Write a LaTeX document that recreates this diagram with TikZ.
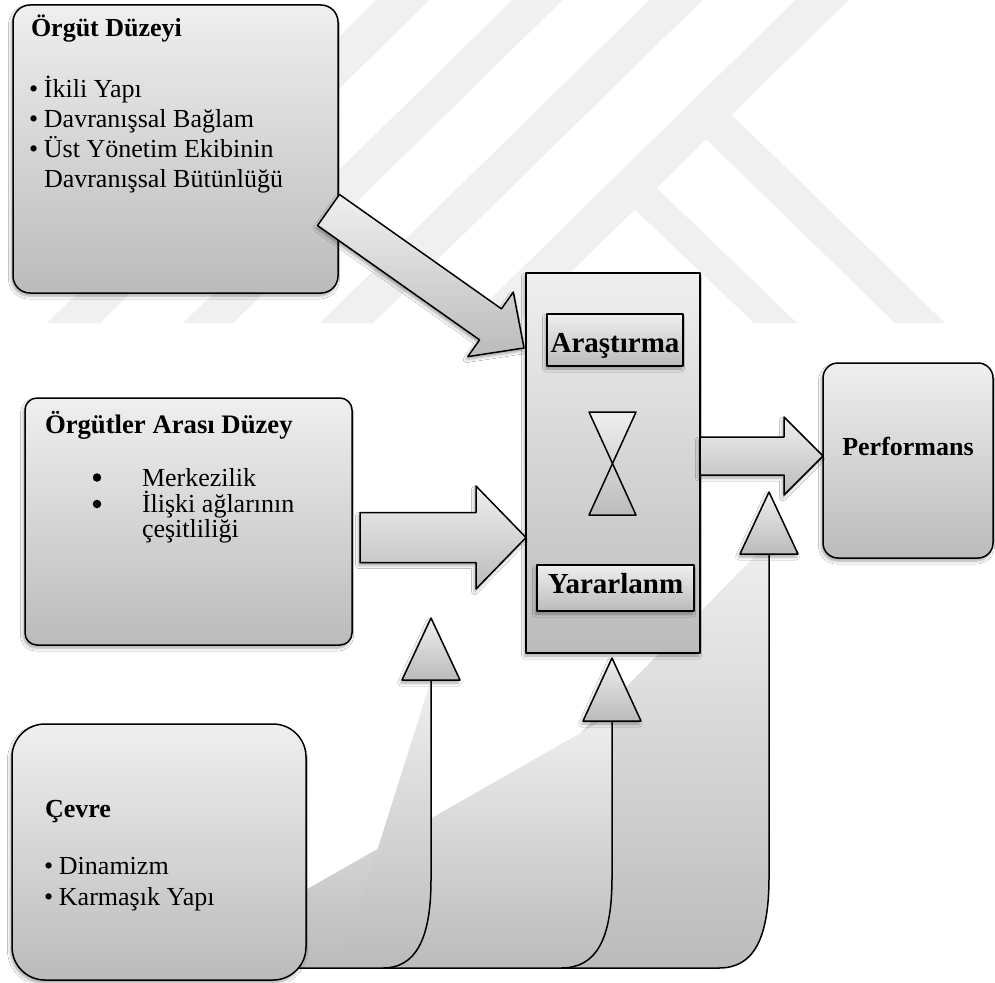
\documentclass[tikz,border=0pt]{standalone}
\usepackage{fontspec}
\setmainfont{Liberation Serif}
\usetikzlibrary{calc,shadows.blur}

\definecolor{shtop}{HTML}{EFEFEF}
\definecolor{shbot}{HTML}{BBBBBB}
\definecolor{markgray}{HTML}{F0F0F0}

% block arrow from tail #1 to tip #2: shaft half width #3, head half width #4, head length #5
\newcommand\blockarrow[5]{%
  \coordinate (ba-h) at ($(#2)!#5!(#1)$);
  \draw[arrowbody] ($(#1)!#3!90:(#2)$) -- ($(ba-h)!#3!90:(#2)$) -- ($(ba-h)!#4!90:(#2)$)
    -- (#2) -- ($(ba-h)!#4!-90:(#2)$) -- ($(ba-h)!#3!-90:(#2)$) -- ($(#1)!#3!-90:(#2)$) -- cycle;
}

\begin{document}
\begin{tikzpicture}[x=1pt,y=-1pt,
  every node/.style={inner sep=0pt,outer sep=0pt},
  outline/.style={draw=black,line width=1.5pt,line join=round},
  gradfill/.style={top color=shtop,bottom color=shbot},
  softshadow/.style={blur shadow={shadow xshift=-1.5pt,shadow yshift=-3pt,shadow blur radius=3pt,shadow opacity=35}},
  panel/.style={outline,gradfill,softshadow,anchor=north west},
  arrowbody/.style={outline,gradfill,softshadow},
  stemshape/.style={outline,gradfill},
  headtext/.style={font=\fontsize{26}{30}\selectfont\bfseries,anchor=base west},
  bodytext/.style={font=\fontsize{26}{30}\selectfont,anchor=base west},
  boxtitle/.style={font=\fontsize{29}{30}\selectfont\bfseries,anchor=base},
  dot/.style={circle,fill=black,minimum size=8.5pt}
]
\useasboundingbox (0,0) rectangle (995,982);
\fill[white] (0,0) rectangle (995,982);

% pale background bands
\fill[markgray] (47,323) -- (100,323) -- (429.5,0) -- (376.5,0) -- cycle;
\fill[markgray] (183,323) -- (233,323) -- (562.5,0) -- (512.5,0) -- cycle;
\fill[markgray] (320,323) -- (373,323) -- (702.5,0) -- (649.5,0) -- cycle;
\fill[markgray] (466,323) -- (519,323) -- (848.5,0) -- (795.5,0) -- cycle;
\fill[markgray] (754,323) -- (797,323) -- (654,185.4) -- (632,206.7) -- cycle;
\fill[markgray] (895,323) -- (945,323) -- (729,112.1) -- (704,136.9) -- cycle;

% stems rising from the environment box
\draw[stemshape] (769,542) -- (769,877) .. controls (769,940) and (753,968) .. (719,968) -- (349,968);
\draw[stemshape] (612,715) -- (612,877) .. controls (612,940) and (596,968) .. (561,968) -- (169,968);
\draw[stemshape] (431,680) -- (431,880) .. controls (431,940) and (415,968) .. (383,968) -- (340,968);

% stem heads
\draw[outline,gradfill,softshadow] (431,618) -- (460,680) -- (402,680) -- cycle;
\draw[outline,gradfill,softshadow] (612,658) -- (641,721) -- (583,721) -- cycle;
\draw[outline,gradfill,softshadow] (769,492) -- (798,554) -- (740,554) -- cycle;

% level boxes
\node[panel,rounded corners=17pt,minimum width=325pt,minimum height=288pt] (orgut) at (13,5) {};
\node[panel,rounded corners=12pt,minimum width=327pt,minimum height=247pt] (arasi) at (25,398) {};
\node[panel,rounded corners=33pt,minimum width=294pt,minimum height=256pt] (cevre) at (12,724) {};

% central box
\node[panel,minimum width=174pt,minimum height=380pt] (core) at (526,273) {};
\node[panel,minimum width=136pt,minimum height=52pt] (arast) at (547,314) {};
\node[panel,minimum width=157pt,minimum height=46pt] (yarar) at (537,565) {};
\draw[outline,gradfill] (589,412) -- (636,412) -- (589,515) -- (636,515) -- cycle;

% outcome box
\node[panel,rounded corners=15pt,minimum width=170pt,minimum height=195pt] (perf) at (823,363) {};

% arrows
\coordinate (a1s) at (328.5,210);
\coordinate (a1e) at (524,348);
\blockarrow{a1s}{a1e}{19pt}{39.5pt}{41pt}
\coordinate (a2s) at (360,537.5);
\coordinate (a2e) at (core.west |- a2s);
\blockarrow{a2s}{a2e}{25pt}{51.5pt}{50pt}
\coordinate (a3s) at (core.east |- 0,456);
\coordinate (a3e) at (perf.west |- a3s);
\blockarrow{a3s}{a3e}{19pt}{39pt}{39pt}

% texts
\node[headtext] (t1) at (31,37) {Örgüt Düzeyi};
\node[bodytext] (t1a) at (29,97) {\textbullet\hspace{5.9pt}İkili Yapı};
\node[bodytext] (t1b) at (29,127) {\textbullet\hspace{5.9pt}Davranışsal Bağlam};
\node[bodytext] (t1c) at (29,157) {\textbullet\hspace{5.9pt}Üst Yönetim Ekibinin};
\node[bodytext] (t1d) at (44,187) {Davranışsal Bütünlüğü};

\node[headtext,font=\fontsize{26.7}{30}\selectfont\bfseries] (t2) at (45,433) {Örgütler Arası Düzey};
\node[dot] (d1) at (97,477.5) {};
\node[dot] (d2) at (97,504) {};
\node[bodytext] (t2a) at (142,486) {Merkezilik};
\node[bodytext] (t2b) at (142,512) {İlişki ağlarının};
\node[bodytext] (t2c) at (142,537) {çeşitliliği};

\node[headtext] (t3) at (45,817) {Çevre};
\node[bodytext] (t3a) at (44,874) {\textbullet\hspace{5.9pt}Dinamizm};
\node[bodytext] (t3b) at (44,905) {\textbullet\hspace{5.9pt}Karmaşık Yapı};

\node[boxtitle] (t4) at (arast.center |- 0,352) {Araştırma};
\node[boxtitle] (t5) at (yarar.center |- 0,593) {Yararlanm};
\node[headtext,anchor=base] (t6) at (perf.center |- 0,455) {Performans};
\end{tikzpicture}
\end{document}
